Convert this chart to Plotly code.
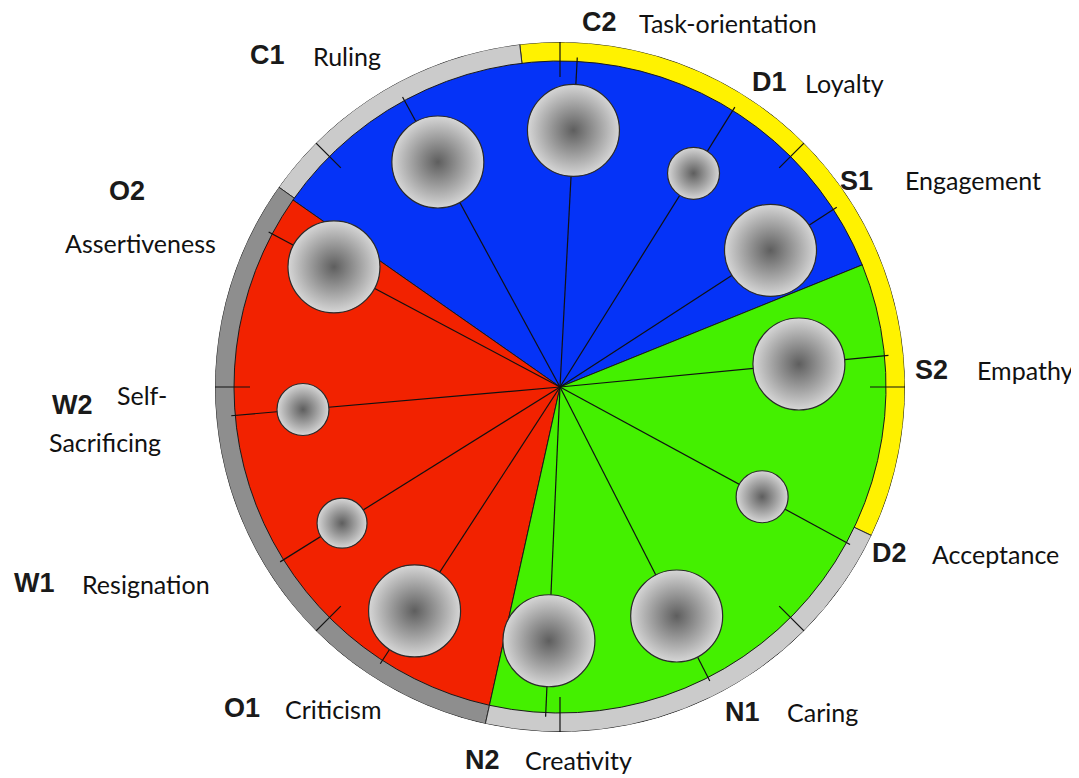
import plotly.graph_objects as go

# scales around the circle (angles in degrees, counterclockwise from east)
scale_codes = ['C1', 'C2', 'D1', 'S1', 'S2', 'D2', 'N1', 'N2', 'O1', 'W1', 'W2', 'O2']
scale_names = ['Ruling', 'Task-orientation', 'Loyalty', 'Engagement', 'Empathy', 'Acceptance',
               'Caring', 'Creativity', 'Criticism', 'Resignation', 'Self-', 'Assertiveness']
scale_angle = [118.5, 87, 58, 33, 5.5, 331.5, 297, 267.5, 237, 212, 185, 152]
bubble_dist = [256, 257, 252, 251, 240, 230, 257, 254, 267, 257, 258, 256]
bubble_size = [92, 92, 52, 92, 92, 52, 92, 92, 92, 50, 52, 92]

# coloured sectors (start, end angle)
sector_names = ['blue', 'red', 'green']
sector_start = [22, 145, 257.5]
sector_end = [145, 257.5, 382]

# outer ring segments
ring_start = [-25.5, 96.7, 144.6, 257.5]
ring_end = [96.7, 144.6, 257.5, 334.5]

tick_angles = [0, 45, 90, 135, 180, 225, 270, 315]

R_IN = 326
R_OUT = 345

sector_colors = {'blue': '#0533f7', 'red': '#f22200', 'green': '#44f000'}
ring_colors = ['#fff200', '#cbcbcb', '#8e8e8e', '#cbcbcb']

W, H = 1079, 778
OFF = 8  # page body margin
cx, cy = 560 - OFF, 387 - OFF

fig = go.Figure()

# ring (full wedges, covered by the sectors)
fig.add_trace(go.Barpolar(
    r=[R_OUT] * len(ring_start),
    theta=[(a + b) / 2 for a, b in zip(ring_start, ring_end)],
    width=[b - a for a, b in zip(ring_start, ring_end)],
    marker=dict(color=ring_colors, line=dict(color='#2a2a2a', width=1)),
    hoverinfo='skip',
))

fig.add_trace(go.Barpolar(
    r=[R_IN] * len(sector_names),
    theta=[(a + b) / 2 for a, b in zip(sector_start, sector_end)],
    width=[b - a for a, b in zip(sector_start, sector_end)],
    marker=dict(color=[sector_colors[s] for s in sector_names],
                line=dict(color='#1a1a1a', width=1)),
    hoverinfo='skip',
))

# radial lines from the centre to the ring
line_r, line_t = [], []
for a in scale_angle:
    line_r += [0, R_IN + 4, None]
    line_t += [a, a, None]
fig.add_trace(go.Scatterpolar(
    r=line_r, theta=line_t, mode='lines',
    line=dict(color='#111111', width=1.2), hoverinfo='skip', connectgaps=False,
))

# ticks on the ring
tick_r, tick_t = [], []
for a in tick_angles:
    tick_r += [R_IN - 16, R_OUT, None]
    tick_t += [a, a, None]
fig.add_trace(go.Scatterpolar(
    r=tick_r, theta=tick_t, mode='lines',
    line=dict(color='#111111', width=1.2), hoverinfo='skip', connectgaps=False,
))

# bubbles
fig.add_trace(go.Scatterpolar(
    r=bubble_dist, theta=scale_angle, mode='markers',
    marker=dict(size=bubble_size, color='#d6d6d6',
                gradient=dict(type='radial', color='#5e5e5e'),
                line=dict(color='#2a2a2a', width=1.2), opacity=1),
    text=scale_codes, hoverinfo='text',
))

# label placement (pixel positions of left edge / vertical middle)
code_pos = [(248, 55), (580, 22), (750, 82), (838, 181), (913, 370), (870, 553),
            (723, 712), (463, 760), (222, 708), (12, 583), (50, 405), (107, 191)]
name_pos = [(311, 56), (637, 23), (803, 83), (903, 180), (975, 370), (930, 554),
            (785, 712), (523, 760), (283, 709), (80, 584), (115, 395), (63, 243)]


def px(x, y):
    return (x - OFF) / W, 1 - (y - OFF) / H


annotations = []
for code, name, (x1, y1), (x2, y2) in zip(scale_codes, scale_names, code_pos, name_pos):
    ax, ay = px(x1, y1)
    annotations.append(dict(x=ax, y=ay, xref='paper', yref='paper',
                            text='<b>' + code + '</b>', showarrow=False,
                            xanchor='left', yanchor='middle',
                            font=dict(family='Liberation Sans', size=27, color='#1a1a1a')))
    ax, ay = px(x2, y2)
    annotations.append(dict(x=ax, y=ay, xref='paper', yref='paper',
                            text=name, showarrow=False, xanchor='left', yanchor='middle',
                            font=dict(family='Lato', size=25, color='#111111')))
ax, ay = px(47, 442)
annotations.append(dict(x=ax, y=ay, xref='paper', yref='paper',
                        text='Sacrificing', showarrow=False, xanchor='left', yanchor='middle',
                        font=dict(family='Lato', size=25, color='#111111')))

fig.update_layout(
    width=W, height=H,
    margin=dict(l=0, r=0, t=0, b=0),
    paper_bgcolor='white',
    plot_bgcolor='white',
    showlegend=False,
    annotations=annotations,
    polar=dict(
        domain=dict(x=[(cx - R_OUT) / W, (cx + R_OUT) / W],
                    y=[(H - cy - R_OUT) / H, (H - cy + R_OUT) / H]),
        radialaxis=dict(range=[0, R_OUT], visible=False, showgrid=False),
        angularaxis=dict(visible=False, rotation=0, direction='counterclockwise', showgrid=False),
        bgcolor='rgba(0,0,0,0)',
        barmode='overlay',
        bargap=0,
    ),
)

fig.write_html('out.html')
